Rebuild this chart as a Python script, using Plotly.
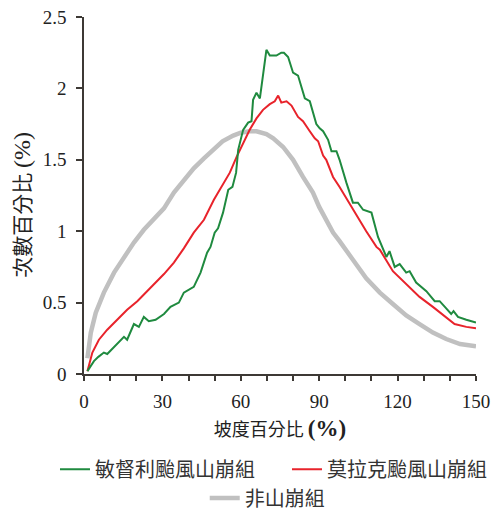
import plotly.graph_objects as go

# Data
green_x = [1.3, 3.8, 5.5, 7.6, 8.9, 11, 13, 15.3, 16.5, 19.1, 21, 22.9, 24.8, 27.4, 30.6, 33.1, 36.3,
           38.2, 42, 44.6, 47.1, 48.4, 50, 51.3, 53.2, 55.2, 56.8, 58.2, 59, 60.9, 62.8, 64.1, 64.7, 66,
           67.3, 68.5, 69.8, 71.1, 73.6, 75.5, 76.5, 78.1, 80, 81.9, 84.5, 86.4, 88.9, 90.2, 91.5, 93.4,
           94.7, 96.6, 97.8, 100.4, 102.9, 104.8, 106.8, 110, 112.5, 115.7, 116.9, 118.9, 120.8, 123.3,
           124.6, 127.1, 131, 134.2, 136.1, 138.6, 140.5, 141.4, 143.1, 146.3, 150]
green_y = [0.02, 0.09, 0.12, 0.15, 0.14, 0.18, 0.22, 0.26, 0.24, 0.35, 0.33, 0.40, 0.37, 0.38, 0.42, 0.47,
           0.50, 0.57, 0.61, 0.71, 0.85, 0.89, 0.99, 1.02, 1.13, 1.29, 1.31, 1.41, 1.57, 1.71, 1.76, 1.77,
           1.92, 1.97, 1.93, 2.08, 2.27, 2.23, 2.23, 2.25, 2.25, 2.22, 2.11, 2.09, 1.93, 1.91, 1.75, 1.72,
           1.70, 1.64, 1.56, 1.56, 1.50, 1.34, 1.20, 1.20, 1.15, 1.13, 0.96, 0.82, 0.86, 0.75, 0.77, 0.71,
           0.72, 0.64, 0.58, 0.51, 0.51, 0.46, 0.42, 0.44, 0.40, 0.38, 0.36]

red_x = [1.3, 3.2, 5.7, 8.9, 12.7, 16.5, 20.4, 23.6, 26.6, 30.6, 34.4, 38.2, 42, 45.9, 49.7, 52, 55.8,
         58.4, 60.9, 63.4, 66, 68.5, 71.1, 73, 74.3, 75.5, 77.5, 79.4, 81.9, 83.8, 86.4, 88.3, 89.6,
         91.5, 92.7, 95.3, 97.8, 99.1, 102.9, 108, 111.9, 113.2, 118.2, 123.3, 128.4, 133.5, 138.6,
         141.8, 146.3, 150]
red_y = [0.02, 0.15, 0.24, 0.31, 0.38, 0.45, 0.51, 0.57, 0.63, 0.70, 0.78, 0.88, 0.99, 1.08, 1.22, 1.29,
         1.41, 1.52, 1.62, 1.71, 1.79, 1.85, 1.89, 1.91, 1.95, 1.90, 1.91, 1.88, 1.80, 1.77, 1.70, 1.65,
         1.63, 1.53, 1.50, 1.38, 1.31, 1.27, 1.15, 1.00, 0.89, 0.87, 0.72, 0.63, 0.54, 0.47, 0.40, 0.35,
         0.33, 0.32]

gray_x = [1.3, 2.6, 4.5, 7.6, 11.5, 15.3, 19.1, 22.9, 26.8, 30.6, 34.4, 38.2, 42, 45.9, 49.7, 53, 57.1,
          60, 63.4, 66, 69.8, 72.4, 76.2, 80, 83.8, 87.6, 90, 92.7, 95.3, 97.8, 100.4, 102.9, 108, 113.2,
          118.2, 123.3, 128.4, 133.5, 138.6, 143.9, 150]
gray_y = [0.11, 0.29, 0.43, 0.57, 0.71, 0.82, 0.92, 1.01, 1.09, 1.16, 1.27, 1.36, 1.44, 1.51, 1.58, 1.63,
          1.67, 1.69, 1.70, 1.70, 1.68, 1.65, 1.59, 1.50, 1.38, 1.27, 1.17, 1.08, 0.99, 0.93, 0.86, 0.80,
          0.67, 0.57, 0.49, 0.41, 0.35, 0.29, 0.245, 0.21, 0.195]

x_tick_vals = [0, 30, 60, 90, 120, 150]
x_minor_vals = [10, 20, 40, 50, 70, 80, 100, 110, 130, 140]
y_tick_vals = [0, 0.5, 1, 1.5, 2, 2.5]
y_tick_text = ["0", "0.5", "1", "1.5", "2", "2.5"]

names = ["敏督利颱風山崩組", "莫拉克颱風山崩組", "非山崩組"]

CJK = "Noto Sans CJK TC"
SERIF = "Liberation Serif"
AXIS_COLOR = "#3d3935"

fig = go.Figure()
fig.add_trace(go.Scatter(x=gray_x, y=gray_y, mode="lines", name=names[2],
                         line=dict(color="#c0c0c0", width=4.5), legend="legend2"))
fig.add_trace(go.Scatter(x=red_x, y=red_y, mode="lines", name=names[1],
                         line=dict(color="#e8232b", width=2)))
fig.add_trace(go.Scatter(x=green_x, y=green_y, mode="lines", name=names[0],
                         line=dict(color="#1f8a3f", width=2)))

fig.update_layout(
    width=497, height=508,
    margin=dict(l=84, r=20.5, t=17, b=133.5, autoexpand=False),
    paper_bgcolor="white", plot_bgcolor="white",
    font=dict(family=CJK, size=18, color="#222"),
    legend=dict(orientation="h", x=-0.074, xanchor="left", y=-0.212, yanchor="top",
                traceorder="reversed", font=dict(family=CJK, size=20, color="#333"),
                itemwidth=30, entrywidth=187, entrywidthmode="pixels"),
    legend2=dict(orientation="h", x=0.308, xanchor="left", y=-0.293, yanchor="top",
                 font=dict(family=CJK, size=20, color="#333"), itemwidth=30),
)

fig.update_xaxes(
    range=[0, 150], tickmode="array", tickvals=x_tick_vals,
    ticks="outside", ticklen=5, tickwidth=1.5, tickcolor=AXIS_COLOR,
    minor=dict(tickmode="array", tickvals=x_minor_vals,
               ticks="outside", ticklen=5, tickwidth=1.5, tickcolor=AXIS_COLOR),
    showline=True, linecolor=AXIS_COLOR, linewidth=1.5, showgrid=False, zeroline=False,
    tickfont=dict(family=SERIF, size=19, color="#222"), ticklabelstandoff=4,
    title=dict(text="坡度百分比 <span style='font-family:Liberation Serif;font-size:23px'><b>(%)</b></span>",
               font=dict(family=CJK, size=18, color="#222"), standoff=13),
)
fig.update_yaxes(
    range=[0, 2.5], tickmode="array", tickvals=y_tick_vals, ticktext=y_tick_text,
    ticks="outside", ticklen=6, tickwidth=1.5, tickcolor=AXIS_COLOR,
    showline=True, linecolor=AXIS_COLOR, linewidth=1.5, showgrid=False, zeroline=False,
    tickfont=dict(family=SERIF, size=19, color="#222"), ticklabelstandoff=6,
    title=dict(text="次數百分比 <span style='font-family:Liberation Serif;font-size:24px'>(%)</span>&nbsp;&nbsp;&nbsp;&nbsp;",
               font=dict(family=CJK, size=21, color="#222"), standoff=6),
)

fig.write_html("out.html")
